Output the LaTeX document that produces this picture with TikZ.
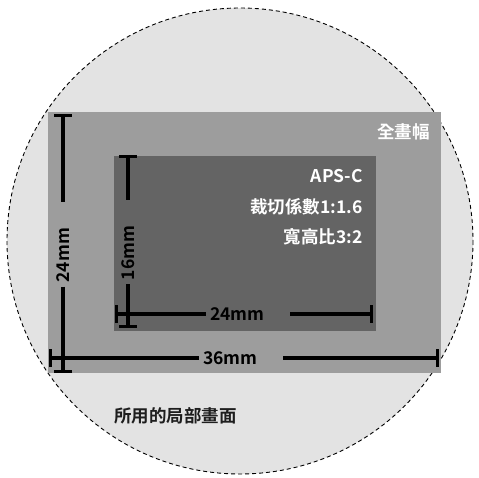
\documentclass[tikz,border=0pt]{standalone}
\usepackage{fontspec}
\setmainfont{Noto Sans CJK TC}[BoldFont={Noto Sans CJK TC Bold}]
\usetikzlibrary{arrows.meta, positioning, calc}
\definecolor{fieldgray}{HTML}{E3E3E3}
\definecolor{fullgray}{HTML}{9D9D9D}
\definecolor{apsgray}{HTML}{646464}
\definecolor{inkdark}{HTML}{1E1E1E}

\begin{document}
\begin{tikzpicture}[x=1pt, y=-1pt,
  every node/.style={font=\bfseries\fontsize{17.5}{21}\selectfont},
  dimline/.style={line width=3.2pt, black},
  dimlabel/.style={inner xsep=4pt, inner ysep=0pt, text width=76pt,
    align=left, text=black},
  sensor/.style={inner sep=0pt, anchor=north west},
  tag/.style={text=white, inner sep=0pt}]
  \useasboundingbox (0,0) rectangle (479,477);

  % image circle and the two sensor sizes
  \draw[fill=fieldgray, dash pattern=on 4pt off 3pt, line width=0.9pt]
    (240,241) circle[radius=233];
  \node[sensor, fill=fullgray, minimum width=393pt, minimum height=261pt]
    (ff) at (48,112) {};
  \node[sensor, fill=apsgray, minimum width=262pt, minimum height=175pt]
    (aps) at (114,156) {};

  % labels
  \node[tag, anchor=east] (fflabel) at (430,132) {全畫幅};
  \node[tag, anchor=east] (apslabel) at (363,176) {APS-C};
  \node[tag, anchor=east] (croplabel) at (363,207) {裁切係數1:1.6};
  \node[tag, anchor=east] (ratiolabel) at (363,237) {寬高比3:2};
  \node[text=inkdark, inner sep=0pt, anchor=west] (imglabel) at (114,416)
    {所用的局部畫面};

  % full frame dimensions
  \coordinate (fftop) at (63,114);
  \coordinate (ffbot) at (63,373);
  \node[dimlabel, rotate=90] (ffh) at (63,244.5) {24mm};
  \draw[dimline, {Bar[width=18pt]}-] (fftop) -- (ffh.east);
  \draw[dimline, -{Bar[width=18pt]}] (ffh.west) -- (ffbot);

  \coordinate (ffleft) at (49,358);
  \coordinate (ffright) at (439,358);
  \node[dimlabel] (ffw) at (241,358) {36mm};
  \draw[dimline, {Bar[width=18pt]}-] (ffleft) -- (ffw.west);
  \draw[dimline, -{Bar[width=18pt]}] (ffw.east) -- (ffright);

  % APS-C dimensions
  \coordinate (apstop) at (128,155);
  \coordinate (apsbot) at (128,328);
  \node[dimlabel, rotate=90] (apsh) at (128,242) {16mm};
  \draw[dimline, {Bar[width=18pt]}-] (apstop) -- (apsh.east);
  \draw[dimline, -{Bar[width=18pt]}] (apsh.west) -- (apsbot);

  \coordinate (apsleft) at (115,314);
  \coordinate (apsright) at (373,314);
  \node[dimlabel] (apsw) at (248,314) {24mm};
  \draw[dimline, {Bar[width=18pt]}-] (apsleft) -- (apsw.west);
  \draw[dimline, -{Bar[width=18pt]}] (apsw.east) -- (apsright);
\end{tikzpicture}
\end{document}
